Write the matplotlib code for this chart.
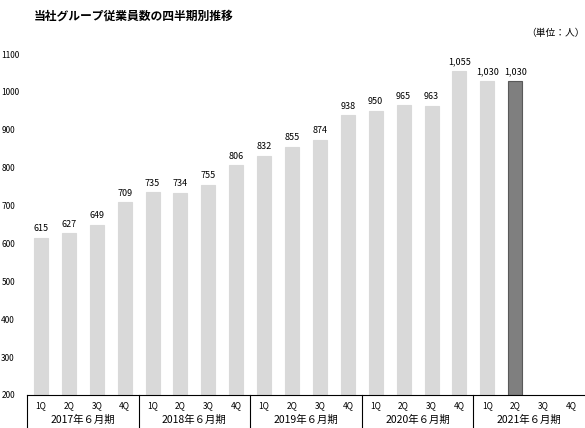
import numpy as np
import matplotlib.pyplot as plt

plt.rcParams['font.family'] = ['Noto Sans CJK JP', 'DejaVu Sans']

years = ['2017年６月期', '2018年６月期', '2019年６月期', '2020年６月期', '2021年６月期']
quarters = ['1Q', '2Q', '3Q', '4Q']
values = [615, 627, 649, 709,
          735, 734, 755, 806,
          832, 855, 874, 938,
          950, 965, 963, 1055,
          1030, 1030]
labels = ['615', '627', '649', '709', '735', '734', '755', '806',
          '832', '855', '874', '938', '950', '965', '963', '1,055',
          '1,030', '1,030']

n_slots = len(years) * len(quarters)
x = np.arange(len(values))

fig = plt.figure(figsize=(5.85, 4.28), dpi=100)
ax = fig.add_axes([27 / 585, 33 / 428, 1 - 27 / 585, 341 / 428])

colors = ['#d9d9d9'] * (len(values) - 1) + ['#7f7f7f']
edges = ['#d9d9d9'] * (len(values) - 1) + ['#595959']
ax.bar(x, np.array(values) - 200, bottom=200, width=0.5, color=colors,
       edgecolor=edges, linewidth=0.8)

for xi, v, t in zip(x, values, labels):
    ax.text(xi, v + 12, t, ha='center', va='bottom', fontsize=6.5)

ax.set_xlim(-0.5, n_slots - 0.5)
ax.set_ylim(200, 1100)
ax.set_yticks(range(200, 1101, 100))
ax.tick_params(axis='y', length=0, labelsize=6, pad=18.5)
for lab in ax.get_yticklabels():
    lab.set_horizontalalignment('left')
ax.set_xticks([])
for s in ['top', 'right', 'left']:
    ax.spines[s].set_visible(False)
ax.spines['bottom'].set_linewidth(0.8)

# category box under the axis
for i in range(n_slots):
    ax.text(i, 185, quarters[i % 4], ha='center', va='top', fontsize=6,
            clip_on=False)
for j, yname in enumerate(years):
    ax.text(j * 4 + 1.5, 147, yname, ha='center', va='top', fontsize=7.5,
            clip_on=False)
    ax.plot([j * 4 - 0.5, j * 4 - 0.5], [200, 100], color='black', lw=0.8,
            clip_on=False)

fig.text(0.058, 0.978, '当社グループ従業員数の四半期別推移', fontsize=8.5,
         ha='left', va='top', fontweight='bold')
fig.text(0.999, 0.935, '（単位：人）', fontsize=7, ha='right', va='top')

fig.savefig('out.png', dpi=100)
